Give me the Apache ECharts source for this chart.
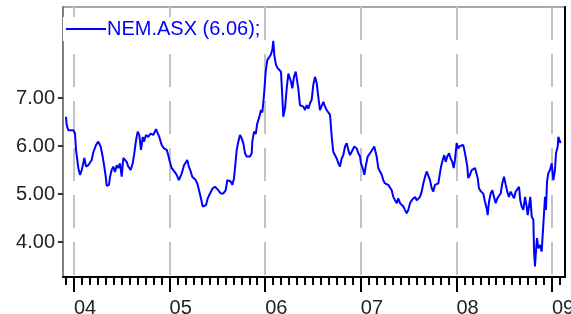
<!DOCTYPE html>
<html>
<head>
<meta charset="utf-8">
<script src="https://cdn.jsdelivr.net/npm/echarts@6/dist/echarts.min.js"></script>
<style>
  html, body { margin: 0; padding: 0; background: #fff; }
  #chart { width: 571px; height: 314px; }
</style>
</head>
<body>
<div id="chart"></div>
<script>
// x: years since 1 Jan 2004, y: price (A$)
var seriesName = 'NEM.ASX (6.06);';
var yearTicks = [0, 1, 2, 3, 4, 5];
var yearLabels = ['04', '05', '06', '07', '08', '09'];
var priceTicks = [4, 5, 6, 7];

var t = [
	-0.084, -0.076, -0.060, -0.042, -0.007, 0.010, 0.021, 0.035, 0.045, 0.063,
	0.081, 0.097, 0.108, 0.126, 0.150, 0.185, 0.202, 0.230, 0.254, 0.279,
	0.300, 0.317, 0.332, 0.342, 0.366, 0.377, 0.394, 0.411, 0.429, 0.447,
	0.463, 0.481, 0.499, 0.516, 0.533, 0.551, 0.568, 0.593, 0.614, 0.628,
	0.649, 0.666, 0.683, 0.701, 0.719, 0.732, 0.753, 0.777, 0.802, 0.829,
	0.858, 0.876, 0.892, 0.917, 0.941, 0.970, 0.986, 0.999, 1.022, 1.049,
	1.074, 1.098, 1.127, 1.151, 1.168, 1.185, 1.203, 1.221, 1.237, 1.255,
	1.273, 1.290, 1.311, 1.328, 1.346, 1.363, 1.381, 1.399, 1.415, 1.433,
	1.451, 1.475, 1.493, 1.509, 1.535, 1.562, 1.587, 1.604, 1.621, 1.639,
	1.656, 1.674, 1.684, 1.702, 1.719, 1.736, 1.754, 1.771, 1.789, 1.806,
	1.823, 1.841, 1.859, 1.865, 1.883, 1.901, 1.917, 1.935, 1.956, 1.970,
	1.980, 1.991, 2.005, 2.022, 2.040, 2.058, 2.074, 2.085, 2.095, 2.113,
	2.131, 2.148, 2.165, 2.179, 2.189, 2.207, 2.225, 2.242, 2.259, 2.270,
	2.284, 2.301, 2.319, 2.336, 2.346, 2.364, 2.382, 2.399, 2.416, 2.434,
	2.451, 2.469, 2.486, 2.503, 2.521, 2.539, 2.555, 2.573, 2.591, 2.608,
	2.626, 2.643, 2.660, 2.678, 2.696, 2.712, 2.730, 2.748, 2.765, 2.782,
	2.800, 2.817, 2.835, 2.853, 2.869, 2.887, 2.905, 2.932, 2.957, 2.974,
	2.992, 3.002, 3.026, 3.037, 3.051, 3.072, 3.089, 3.107, 3.124, 3.141,
	3.156, 3.166, 3.183, 3.201, 3.219, 3.235, 3.253, 3.271, 3.288, 3.305,
	3.323, 3.340, 3.358, 3.376, 3.392, 3.410, 3.428, 3.445, 3.462, 3.480,
	3.497, 3.515, 3.532, 3.549, 3.567, 3.585, 3.601, 3.619, 3.637, 3.654,
	3.672, 3.689, 3.706, 3.724, 3.742, 3.758, 3.776, 3.794, 3.811, 3.828,
	3.839, 3.857, 3.873, 3.888, 3.905, 3.923, 3.940, 3.957, 3.972, 3.985,
	4.003, 4.020, 4.038, 4.056, 4.072, 4.083, 4.100, 4.114, 4.124, 4.142,
	4.160, 4.177, 4.195, 4.212, 4.223, 4.236, 4.257, 4.281, 4.299, 4.317,
	4.327, 4.341, 4.359, 4.376, 4.393, 4.411, 4.428, 4.446, 4.463, 4.480,
	4.498, 4.516, 4.532, 4.550, 4.568, 4.585, 4.603, 4.620, 4.637, 4.655,
	4.668, 4.683, 4.700, 4.718, 4.735, 4.746, 4.759, 4.773, 4.788, 4.805,
	4.812, 4.822, 4.833, 4.843, 4.857, 4.874, 4.892, 4.903, 4.909, 4.927,
	4.937, 4.948, 4.961, 4.979, 4.997, 5.014, 5.031, 5.042, 5.060, 5.066,
	5.084, 5.089
];

var price = [
	6.61, 6.44, 6.33, 6.30, 6.33, 6.27, 5.92, 5.71, 5.54, 5.40,
	5.50, 5.64, 5.75, 5.57, 5.60, 5.71, 5.87, 6.02, 6.09, 5.99,
	5.78, 5.57, 5.36, 5.17, 5.19, 5.36, 5.50, 5.57, 5.46, 5.60,
	5.54, 5.64, 5.36, 5.75, 5.71, 5.67, 5.57, 5.50, 5.64, 5.81,
	6.12, 6.30, 6.23, 5.92, 6.19, 6.09, 6.23, 6.19, 6.26, 6.23,
	6.35, 6.32, 6.19, 6.02, 5.95, 5.92, 5.81, 5.70, 5.54, 5.47,
	5.40, 5.29, 5.43, 5.60, 5.64, 5.71, 5.56, 5.47, 5.36, 5.40,
	5.29, 5.22, 5.05, 4.91, 4.74, 4.70, 4.77, 4.91, 4.98, 4.94,
	5.12, 5.15, 5.12, 5.08, 5.01, 5.01, 5.08, 5.29, 5.33, 5.26,
	5.19, 5.33, 5.54, 5.92, 6.09, 6.23, 6.16, 6.06, 5.85, 5.78,
	5.81, 5.78, 5.85, 6.09, 6.30, 6.25, 6.47, 6.58, 6.75, 6.70,
	6.90, 7.15, 7.55, 7.79, 7.76, 7.90, 8.00, 8.19, 7.90, 7.69,
	7.62, 7.65, 7.55, 7.03, 6.61, 6.78, 7.20, 7.51, 7.48, 7.34,
	7.20, 7.44, 7.55, 7.51, 7.20, 6.85, 6.89, 6.82, 6.75, 6.85,
	6.78, 6.89, 6.96, 7.27, 7.44, 7.31, 7.03, 6.75, 6.78, 6.92,
	6.82, 6.75, 6.78, 6.65, 6.19, 5.88, 5.85, 5.74, 5.64, 5.57,
	5.74, 5.81, 5.99, 6.06, 5.92, 5.81, 5.88, 5.99, 5.95, 5.85,
	5.78, 5.64, 5.50, 5.40, 5.57, 5.78, 5.81, 5.88, 5.85, 5.99,
	6.02, 5.78, 5.54, 5.47, 5.40, 5.29, 5.22, 5.26, 5.19, 5.15,
	5.08, 4.94, 4.87, 4.81, 4.91, 4.81, 4.77, 4.74, 4.67, 4.60,
	4.67, 4.81, 4.87, 4.84, 4.94, 4.87, 4.91, 4.94, 5.05, 5.22,
	5.36, 5.47, 5.43, 5.29, 5.12, 5.05, 5.19, 5.15, 5.22, 5.26,
	5.57, 5.71, 5.81, 5.67, 5.78, 5.85, 5.74, 5.67, 5.54, 5.71,
	6.06, 5.95, 6.00, 6.00, 6.02, 5.92, 5.74, 5.57, 5.33, 5.40,
	5.50, 5.47, 5.54, 5.57, 5.33, 5.12, 5.05, 5.01, 4.84, 4.70,
	4.56, 4.84, 5.01, 5.08, 4.94, 4.81, 4.91, 4.94, 5.01, 5.22,
	5.36, 5.19, 5.05, 4.94, 5.05, 5.05, 4.91, 5.05, 5.08, 5.15,
	4.87, 4.74, 4.67, 4.94, 4.74, 4.56, 4.74, 4.94, 4.53, 4.46,
	3.83, 3.49, 3.83, 4.08, 3.87, 3.94, 3.80, 3.76, 4.35, 4.94,
	4.67, 5.26, 5.43, 5.50, 5.64, 5.29, 5.50, 5.85, 5.99, 6.19,
	6.09, 6.06
];

var monthTicks = [];
for (var m = -1; m <= 61; m++) {
	monthTicks.push(m / 12);
}

var points = t.map(function(v, i) {
	return [v, price[i]];
});

var xMin = -0.115, xMax = 5.136;
var yMin = 3.271, yMax = 8.896;
var font = '"Liberation Sans", Arial, sans-serif';

var option = {
	animation: false,
	backgroundColor: '#fff',
	grid: {
		left: 63,
		right: 6,
		top: 7,
		bottom: 37,
		outerBoundsMode: 'none',
		containLabel: false,
		show: true,
		borderColor: '#a8a8a8',
		borderWidth: 2,
		backgroundColor: '#fff'
	},
	legend: {
		show: true,
		left: 63,
		top: 17,
		padding: [2, 3],
		icon: 'rect',
		itemWidth: 40,
		itemHeight: 2,
		itemGap: 0,
		z: 10,
		backgroundColor: '#fff',
		itemStyle: { color: '#0000ff' },
		textStyle: {
			color: '#0000ff',
			fontFamily: font,
			fontSize: 20,
			padding: [0, 0, 0, -4]
		},
		data: [seriesName]
	},
	xAxis: [{
		type: 'value',
		min: xMin,
		max: xMax,
		axisLine: { show: true, onZero: false, lineStyle: { color: '#000', width: 2 } },
		axisTick: { show: true, customValues: monthTicks, length: 8, lineStyle: { color: '#000', width: 2 } },
		axisLabel: { show: false },
		splitLine: { show: false }
	}, {
		type: 'value',
		position: 'bottom',
		min: xMin,
		max: xMax,
		axisLine: { show: false, onZero: false },
		axisTick: { show: true, customValues: yearTicks, length: 15, lineStyle: { color: '#000', width: 2 } },
		axisLabel: {
			show: true,
			customValues: yearTicks,
			margin: 21,
			align: 'left',
			color: '#222',
			fontFamily: font,
			fontSize: 20,
			formatter: function(v) {
				return yearLabels[yearTicks.indexOf(Math.round(v))];
			}
		},
		splitLine: { show: true, lineStyle: { color: '#c4c4c4', width: 2, type: [33, 14] } }
	}],
	yAxis: [{
		type: 'value',
		min: yMin,
		max: yMax,
		axisLine: { show: true, onZero: false, lineStyle: { color: '#808080', width: 2 } },
		axisTick: { show: true, customValues: priceTicks, length: 5, lineStyle: { color: '#333', width: 2 } },
		axisLabel: {
			customValues: priceTicks,
			margin: 8,
			color: '#222',
			fontFamily: font,
			fontSize: 20,
			formatter: function(v) { return v.toFixed(2); }
		},
		splitLine: { show: false }
	}, {
		type: 'value',
		position: 'right',
		min: yMin,
		max: yMax,
		axisLine: { show: true, onZero: false, lineStyle: { color: '#000', width: 2 } },
		axisTick: { show: false },
		axisLabel: { show: false },
		splitLine: { show: false }
	}],
	series: [{
		name: seriesName,
		type: 'line',
		xAxisIndex: 0,
		yAxisIndex: 0,
		data: points,
		symbol: 'none',
		lineStyle: { color: '#0000ff', width: 2 },
		itemStyle: { color: '#0000ff' }
	}]
};

var chart = echarts.init(document.getElementById('chart'), null, { renderer: 'canvas' });
chart.setOption(option);
</script>
</body>
</html>
